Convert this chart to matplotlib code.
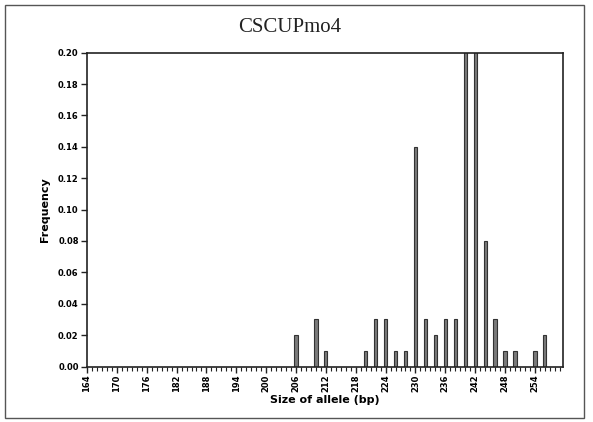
import matplotlib.pyplot as plt
import matplotlib.patches as patches
from matplotlib.ticker import MultipleLocator
import numpy as np

# allele sizes (bp) and their frequencies
alleles = [206, 210, 212, 220, 222, 224, 226, 228, 230, 232, 234,
           236, 238, 240, 242, 244, 246, 248, 250, 254, 256]
freqs = [0.02, 0.03, 0.01, 0.01, 0.03, 0.03, 0.01, 0.01, 0.14, 0.03, 0.02,
         0.03, 0.03, 0.21, 0.21, 0.08, 0.03, 0.01, 0.01, 0.01, 0.02]

xticks = list(range(164, 255, 6))
yticks = [0.00, 0.02, 0.04, 0.06, 0.08, 0.10, 0.12, 0.14, 0.16, 0.18, 0.20]

fig = plt.figure(figsize=(5.93, 4.22), dpi=100)
ax = fig.add_axes([0.1467, 0.1315, 0.8023, 0.7436])

ax.bar(alleles, freqs, width=0.65, color='#7a7a7a', edgecolor='#333333', linewidth=0.8)

ax.set_xlim(164, 259.6)
ax.set_ylim(0, 0.20)

ax.set_xticks(xticks)
ax.set_xticklabels([str(t) for t in xticks], rotation=90, fontsize=6, fontweight='bold')
ax.xaxis.set_minor_locator(MultipleLocator(1))
ax.set_yticks(yticks)
ax.set_yticklabels(['%.2f' % t for t in yticks], fontsize=6, fontweight='bold')

ax.tick_params(axis='both', which='major', direction='out', length=4, width=1, color='#222222', pad=2)
ax.tick_params(axis='x', which='minor', direction='out', length=3, width=0.8, color='#222222')

for s in ax.spines.values():
    s.set_linewidth(1.2)
    s.set_color('#222222')

ax.set_xlabel('Size of allele (bp)', fontsize=8, fontweight='bold', labelpad=2)
ax.set_ylabel('Frequency', fontsize=8, fontweight='bold', labelpad=6)

fig.text(0.489, 0.934, 'CSCUPmo4', ha='center', va='center',
         fontsize=15, family='Liberation Serif', color='#222222')

# scanned page frame around the chart
frame = patches.Rectangle((0.008, 0.01), 0.977, 0.978, transform=fig.transFigure,
                          fill=False, edgecolor='#555555', linewidth=1.0)
fig.patches.append(frame)

fig.savefig('out.png', dpi=100)
